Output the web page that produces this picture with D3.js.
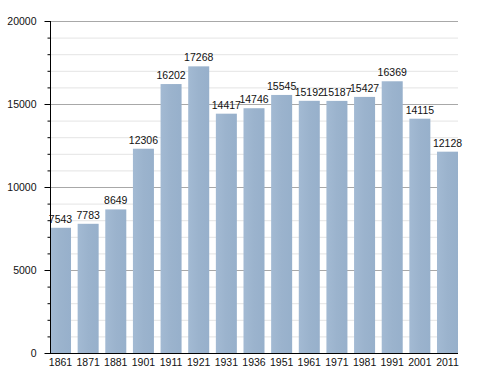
<!DOCTYPE html>
<html>
<head>
<meta charset="utf-8">
<script src="https://cdn.jsdelivr.net/npm/d3@7"></script>
<style>
  body { margin: 0; background: #fff; }
  text { font-family: "Liberation Sans", Arial, sans-serif; font-size: 10.5px; fill: #111; }
</style>
</head>
<body>
<svg id="chart" width="488" height="373"></svg>
<script>
'use strict';

const years = ['1861', '1871', '1881', '1901', '1911', '1921', '1931', '1936', '1951', '1961', '1971', '1981', '1991', '2001', '2011'];
const population = [7543, 7783, 8649, 12306, 16202, 17268, 14417, 14746, 15545, 15192, 15187, 15427, 16369, 14115, 12128];
const majorTicks = [0, 5000, 10000, 15000, 20000];

const vis = d3.select('#chart');
const plotLeft = 50, plotRight = 458, plotTop = 21, plotBottom = 353;

const x = d3.scaleBand().domain(years).range([plotLeft, plotRight]).paddingInner(0.24).paddingOuter(0);
const y = d3.scaleLinear().domain([0, 20000]).range([plotBottom, plotTop]);

const defs = vis.append('defs');
const grad = defs.append('linearGradient').attr('id', 'barGrad');
grad.append('stop').attr('offset', '0%').attr('stop-color', '#a3bad3');
grad.append('stop').attr('offset', '50%').attr('stop-color', '#9bb3cd');
grad.append('stop').attr('offset', '100%').attr('stop-color', '#97b0cb');

// minor grid every 1000
const minor = d3.range(1000, 20001, 1000).filter(v => v % 5000 !== 0);
vis.append('g').selectAll('line')
    .data(minor)
    .enter().append('line')
    .attr('x1', plotLeft).attr('x2', plotRight)
    .attr('y1', d => y(d) + 0.5).attr('y2', d => y(d) + 0.5)
    .attr('stroke', '#e4e4e4');

vis.append('g').selectAll('line')
    .data(majorTicks.slice(1))
    .enter().append('line')
    .attr('x1', plotLeft).attr('x2', plotRight)
    .attr('y1', d => y(d) + 0.5).attr('y2', d => y(d) + 0.5)
    .attr('stroke', '#a8a8a8');

// bars
vis.append('g').selectAll('rect')
    .data(population)
    .enter().append('rect')
    .attr('x', (d, i) => x(years[i]))
    .attr('y', d => y(d))
    .attr('width', x.bandwidth())
    .attr('height', d => plotBottom - y(d))
    .attr('fill', 'url(#barGrad)');

// value labels
vis.append('g').selectAll('text')
    .data(population)
    .enter().append('text')
    .attr('x', (d, i) => x(years[i]) + x.bandwidth() / 2)
    .attr('y', d => y(d) - 5)
    .attr('text-anchor', 'middle')
    .text(d => d);

// y axis
const yAxis = vis.append('g').attr('transform', `translate(${plotLeft + 0.5},0)`);
yAxis.append('line').attr('y1', plotTop).attr('y2', plotBottom).attr('stroke', '#000');
yAxis.selectAll('.minor')
    .data(minor)
    .enter().append('line')
    .attr('x1', -3).attr('x2', 0)
    .attr('y1', d => y(d) + 0.5).attr('y2', d => y(d) + 0.5)
    .attr('stroke', '#000');
yAxis.selectAll('.major')
    .data(majorTicks)
    .enter().append('line')
    .attr('x1', -6).attr('x2', 0)
    .attr('y1', d => y(d) + 0.5).attr('y2', d => y(d) + 0.5)
    .attr('stroke', '#000');
yAxis.selectAll('text')
    .data(majorTicks)
    .enter().append('text')
    .attr('x', -14)
    .attr('y', d => y(d) + 4)
    .attr('text-anchor', 'end')
    .text(d => d);

// x axis
vis.append('line')
    .attr('x1', plotLeft).attr('x2', plotRight)
    .attr('y1', plotBottom + 0.5).attr('y2', plotBottom + 0.5)
    .attr('stroke', '#000');
vis.append('g').selectAll('text')
    .data(years)
    .enter().append('text')
    .attr('x', d => x(d) + x.bandwidth() / 2)
    .attr('y', plotBottom + 13)
    .attr('text-anchor', 'middle')
    .text(d => d);
</script>
</body>
</html>
